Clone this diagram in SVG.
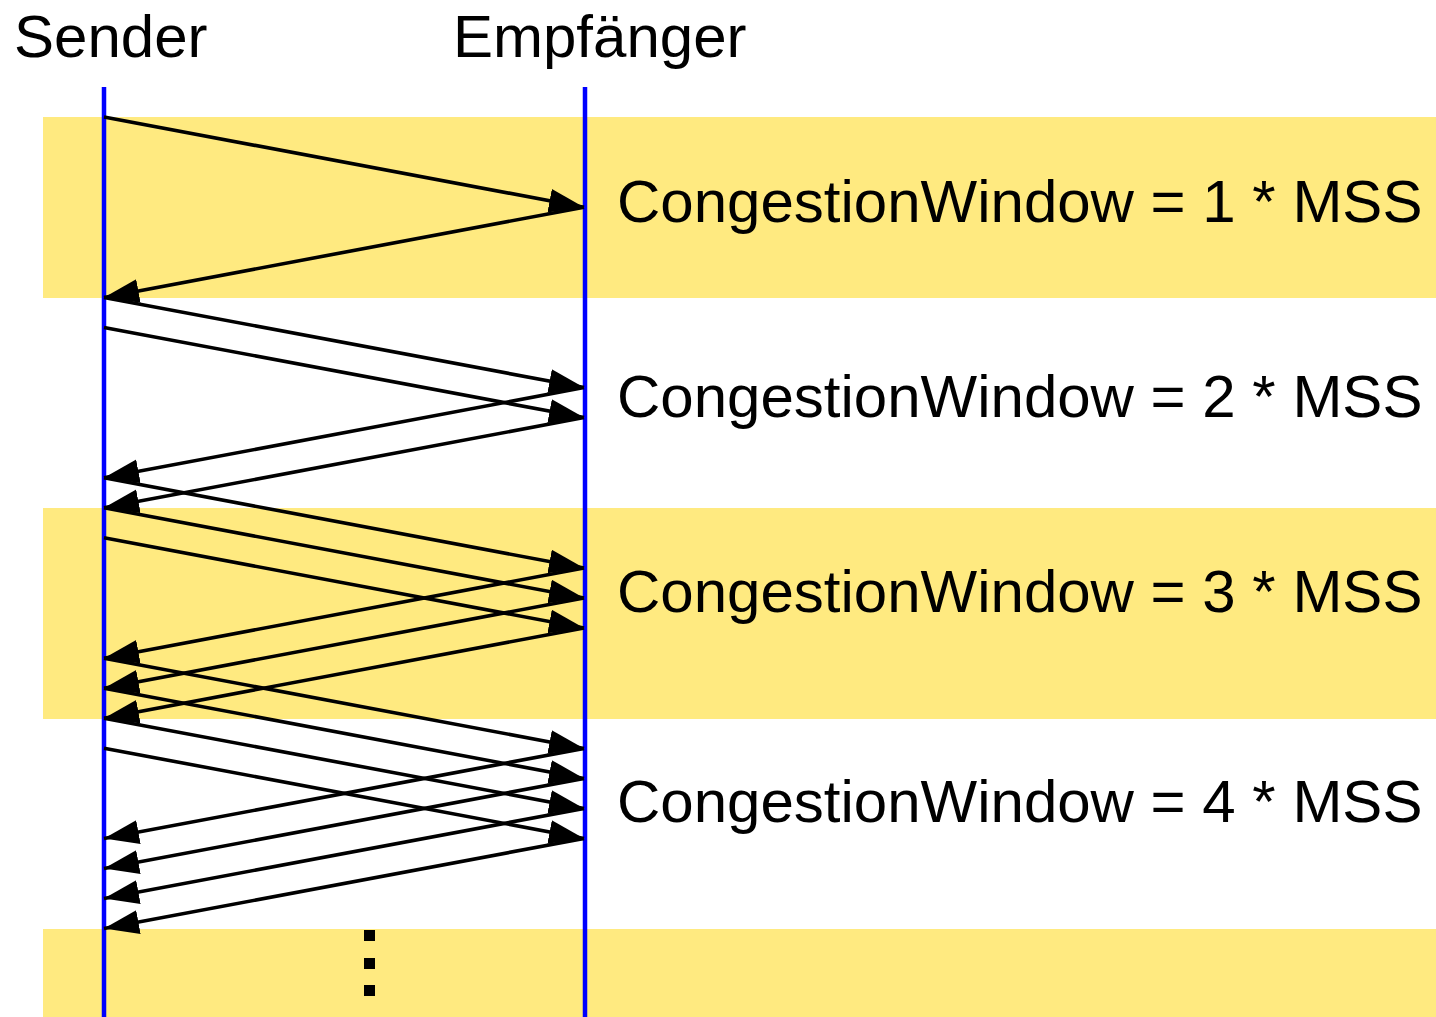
<svg xmlns="http://www.w3.org/2000/svg" width="1436" height="1017" viewBox="0 0 1436 1017">
  <style>
    .band { fill: #FFEA80; }
    .life { stroke: #0000FF; stroke-width: 4.5; fill: none; }
    .msg { stroke: #000; stroke-width: 3.6; fill: none; marker-end: url(#head); }
    .lbl { font-family: "Liberation Sans", Arial, Helvetica, sans-serif; font-size: 60px; fill: #000; }
    .dot { fill: #000; }
  </style>
  <defs>
    <marker id="head" markerUnits="userSpaceOnUse" markerWidth="37" markerHeight="25" refX="35" refY="12" orient="auto">
      <path d="M0,0 L35,12 L0,24 z" fill="#000"/>
    </marker>
  </defs>

  <!-- round backgrounds -->
  <g id="bands">
    <rect class="band" x="43" y="117" width="1393" height="181"/>
    <rect class="band" x="43" y="508" width="1393" height="211"/>
    <rect class="band" x="43" y="929" width="1393" height="88"/>
  </g>

  <!-- lifelines -->
  <g id="sender">
    <text class="lbl" x="14" y="57">Sender</text>
    <line class="life" x1="104" y1="87" x2="104" y2="1017"/>
  </g>
  <g id="receiver">
    <text class="lbl" x="453" y="57">Empfänger</text>
    <line class="life" x1="585" y1="87" x2="585" y2="1017"/>
  </g>

  <!-- segments and acknowledgements -->
  <g id="connectors">
    <!-- round 1 -->
    <line class="msg" x1="104" y1="117" x2="584" y2="207.2"/>
    <line class="msg" x1="584" y1="207.2" x2="104" y2="297.4"/>
    <!-- round 2 -->
    <line class="msg" x1="104" y1="297.4" x2="584" y2="387.6"/>
    <line class="msg" x1="104" y1="327.4" x2="584" y2="417.6"/>
    <line class="msg" x1="584" y1="387.6" x2="104" y2="477.8"/>
    <line class="msg" x1="584" y1="417.6" x2="104" y2="507.8"/>
    <!-- round 3 -->
    <line class="msg" x1="104" y1="477.8" x2="584" y2="568"/>
    <line class="msg" x1="104" y1="507.8" x2="584" y2="598"/>
    <line class="msg" x1="104" y1="537.8" x2="584" y2="628"/>
    <line class="msg" x1="584" y1="568" x2="104" y2="658.2"/>
    <line class="msg" x1="584" y1="598" x2="104" y2="688.2"/>
    <line class="msg" x1="584" y1="628" x2="104" y2="718.2"/>
    <!-- round 4 -->
    <line class="msg" x1="104" y1="658.2" x2="584" y2="748.4"/>
    <line class="msg" x1="104" y1="688.2" x2="584" y2="778.4"/>
    <line class="msg" x1="104" y1="718.2" x2="584" y2="808.4"/>
    <line class="msg" x1="104" y1="748.2" x2="584" y2="838.4"/>
    <line class="msg" x1="584" y1="748.4" x2="104" y2="838.6"/>
    <line class="msg" x1="584" y1="778.4" x2="104" y2="868.6"/>
    <line class="msg" x1="584" y1="808.4" x2="104" y2="898.6"/>
    <line class="msg" x1="584" y1="838.4" x2="104" y2="928.6"/>
  </g>

  <!-- window sizes -->
  <g id="labels">
    <text class="lbl" x="617" y="222">CongestionWindow = 1 * MSS</text>
    <text class="lbl" x="617" y="417">CongestionWindow = 2 * MSS</text>
    <text class="lbl" x="617" y="612">CongestionWindow = 3 * MSS</text>
    <text class="lbl" x="617" y="822">CongestionWindow = 4 * MSS</text>
  </g>

  <!-- continuation marks -->
  <g id="ellipsis">
    <rect class="dot" x="364" y="930" width="11" height="11"/>
    <rect class="dot" x="364" y="958" width="11" height="11"/>
    <rect class="dot" x="364" y="985" width="11" height="11"/>
  </g>
</svg>
